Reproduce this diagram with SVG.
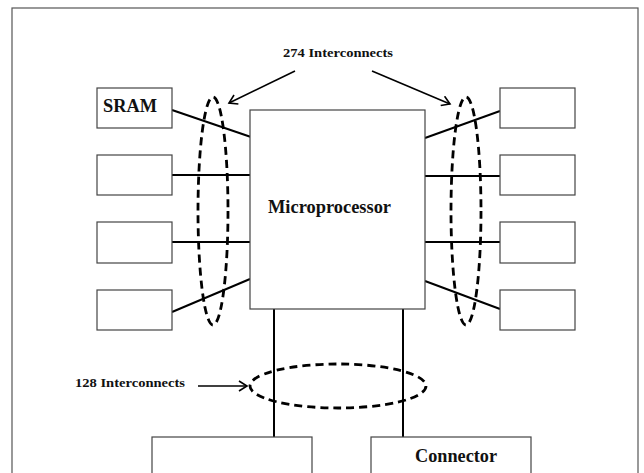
<svg xmlns="http://www.w3.org/2000/svg" width="644" height="473" viewBox="0 0 644 473">
<defs>
<marker id="arr" markerWidth="12" markerHeight="12" refX="10" refY="6" orient="auto" markerUnits="userSpaceOnUse">
<path d="M2,1 L10,6 L2,11" fill="none" stroke="#000" stroke-width="1.6"/>
</marker>
<style>
.box{fill:#fff;stroke:#444;stroke-width:1.2}
.wire{stroke:#000;stroke-width:2;fill:none}
.ell{fill:none;stroke:#000;stroke-width:2.8;stroke-dasharray:8,5}
.lbl{font-family:"Liberation Serif","Times New Roman",serif;font-weight:bold;fill:#111}
.big{font-size:18px}
.small{font-size:13.5px}
.arrow{stroke:#000;stroke-width:1.6;fill:none;marker-end:url(#arr)}
</style>
</defs>
<rect x="0" y="0" width="644" height="473" fill="#fff"/>
<rect x="12" y="8" width="626" height="480" fill="none" stroke="#555" stroke-width="1.2"/>

<g id="connectors">
<line class="wire" x1="172" y1="110" x2="251" y2="137"/>
<line class="wire" x1="172" y1="175" x2="250" y2="175"/>
<line class="wire" x1="172" y1="242" x2="250" y2="242"/>
<line class="wire" x1="172" y1="312" x2="250" y2="279"/>
<line class="wire" x1="425" y1="138" x2="500" y2="111"/>
<line class="wire" x1="425" y1="176" x2="500" y2="176"/>
<line class="wire" x1="425" y1="242" x2="500" y2="242"/>
<line class="wire" x1="425" y1="281" x2="500" y2="309"/>
<line class="wire" x1="274" y1="309" x2="274" y2="437"/>
<line class="wire" x1="403" y1="309" x2="403" y2="437"/>
</g>

<g id="sram"><rect class="box" x="97" y="88" width="75" height="40"/><text class="lbl big" x="103" y="112" textLength="54" lengthAdjust="spacingAndGlyphs">SRAM</text></g>
<g id="left2"><rect class="box" x="97" y="155" width="75" height="40"/></g>
<g id="left3"><rect class="box" x="97" y="222" width="75" height="41"/></g>
<g id="left4"><rect class="box" x="97" y="290" width="75" height="40"/></g>
<g id="right1"><rect class="box" x="500" y="88" width="75" height="40"/></g>
<g id="right2"><rect class="box" x="500" y="155" width="75" height="40"/></g>
<g id="right3"><rect class="box" x="500" y="222" width="75" height="41"/></g>
<g id="right4"><rect class="box" x="500" y="290" width="75" height="40"/></g>
<g id="microprocessor"><rect class="box" x="250" y="110" width="175" height="199"/><text class="lbl big" x="268" y="213" textLength="123" lengthAdjust="spacingAndGlyphs">Microprocessor</text></g>
<g id="bottomleft"><rect class="box" x="152" y="437" width="160" height="60"/></g>
<g id="connector"><rect class="box" x="371" y="437" width="160" height="60"/><text class="lbl big" x="415" y="462" textLength="82" lengthAdjust="spacingAndGlyphs">Connector</text></g>

<g id="bundles">
<ellipse class="ell" cx="213" cy="211" rx="15" ry="114"/>
<ellipse class="ell" cx="466" cy="211" rx="15" ry="114"/>
<ellipse class="ell" cx="338" cy="386" rx="88" ry="22"/>
</g>

<g id="labels">
<text class="lbl small" x="283" y="57" textLength="110" lengthAdjust="spacingAndGlyphs">274 Interconnects</text>
<line class="arrow" x1="295" y1="71" x2="229" y2="103"/>
<line class="arrow" x1="372" y1="71" x2="450" y2="104"/>
<text class="lbl small" x="75" y="387" textLength="110" lengthAdjust="spacingAndGlyphs">128 Interconnects</text>
<line class="arrow" x1="198" y1="386" x2="247" y2="386"/>
</g>
</svg>
